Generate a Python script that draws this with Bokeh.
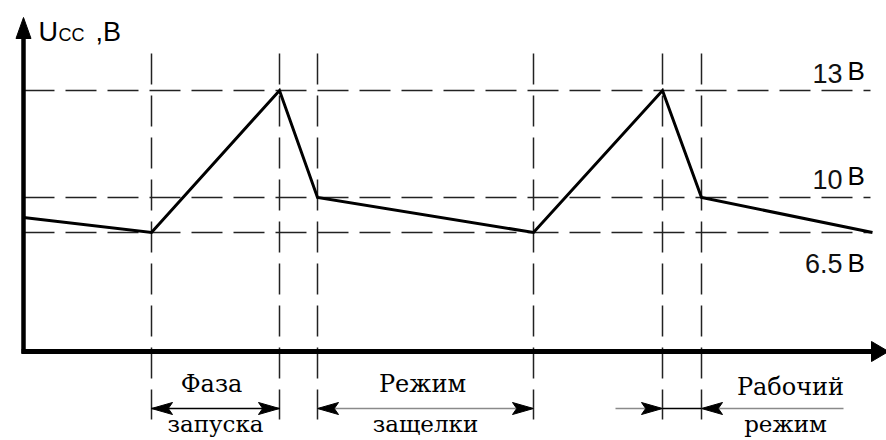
from bokeh.plotting import figure
from bokeh.models import Range1d
from bokeh.core.properties import value
from bokeh.embed import file_html
from bokeh.resources import INLINE

# ---- data (schematic units: time ticks along x, drawn height along y) ----
t_wave = [0, 128, 256, 294, 510, 639, 678, 849]          # event times
h_wave = [134, 119, 261, 154, 119, 261, 154, 119]        # drawn Ucc height
level_volts = [13, 10, 6.5]
level_h = [261, 154, 119]                                 # drawn height of each level
level_num = ["13", "10", "6.5"]
level_unit = ["B", "B", "B"]
guide_t = [128, 256, 294, 510, 639, 678]                  # vertical guides
phase_top = ["Фаза", "Режим", "Рабочий"]
phase_bot = ["запуска", "защелки", "режим"]
phase_span = [(128, 256), (294, 510), (639, 678)]

W, H = 886, 440
X0, X1 = -23, 863
Y1 = 351
Y0 = Y1 - H
TXT = 9  # text baseline correction (px)

p = figure(width=W, height=H, x_range=Range1d(X0, X1), y_range=Range1d(Y0, Y1),
           output_backend="svg", toolbar_location=None, min_border=0,
           x_axis_type=None, y_axis_type=None)
p.grid.visible = False
p.outline_line_color = None
p.background_fill_color = "white"
p.border_fill_color = "white"

dash = "31 11"
gcol = "#222222"

# horizontal level guides
p.segment(x0=[0] * 3, y0=level_h, x1=[847] * 3, y1=level_h,
          line_color=gcol, line_width=1.5, line_dash=dash)
# vertical guides
p.segment(x0=guide_t, y0=[298] * len(guide_t), x1=guide_t, y1=[-68] * len(guide_t),
          line_color=gcol, line_width=1.5, line_dash=dash)

# waveform
p.line(t_wave, h_wave, line_color="black", line_width=3, line_join="miter")

# axes
p.line([0, 0], [-2, 318], line_color="black", line_width=4.5)
p.line([-2, 852], [0, 0], line_color="black", line_width=5)


def head(tx, ty, d, length, width, notch=0.0):
    dx, dy = d
    bx, by = tx - dx * length, ty - dy * length
    px, py = -dy, dx
    nx, ny = tx - dx * length * (1 - notch), ty - dy * length * (1 - notch)
    xs = [tx, bx + px * width / 2, nx, bx - px * width / 2]
    ys = [ty, by + py * width / 2, ny, by - py * width / 2]
    return xs, ys


hx, hy = [], []
xs, ys = head(0, 334, (0, 1), 21, 15)
hx.append(xs); hy.append(ys)
xs, ys = head(865, 0, (1, 0), 17, 20)
hx.append(xs); hy.append(ys)

# bottom phase arrows
ya = -57
a, b = phase_span[0]
p.line([a, b], [ya, ya], line_color="black", line_width=1.5)
for tip, d in ((a, (-1, 0)), (b, (1, 0))):
    xs, ys = head(tip, ya, d, 21, 12, 0.2); hx.append(xs); hy.append(ys)
a, b = phase_span[1]
p.line([a, b], [ya, ya], line_color="#8a8a8a", line_width=1.5)
for tip, d in ((a, (-1, 0)), (b, (1, 0))):
    xs, ys = head(tip, ya, d, 21, 12, 0.2); hx.append(xs); hy.append(ys)
a, b = phase_span[2]
p.line([a - 47, a], [ya, ya], line_color="#8a8a8a", line_width=1.5)
p.line([a, b], [ya, ya], line_color="black", line_width=1.5)
p.line([b, b + 142], [ya, ya], line_color="#8a8a8a", line_width=1.5)
for tip, d in ((a, (1, 0)), (b, (-1, 0))):
    xs, ys = head(tip, ya, d, 21, 12, 0.2); hx.append(xs); hy.append(ys)

p.patches(hx, hy, fill_color="black", line_color="black", line_width=1)

# level labels
p.text(x=[819] * 3, y=[269 + TXT, 163 + TXT, 79 + TXT], text=level_num,
       text_font=value("Liberation Sans"), text_font_size="27px",
       text_align="right", text_baseline="alphabetic", text_color="#111111")
p.text(x=[824] * 3, y=[272 + TXT, 167 + TXT, 80 + TXT], text=level_unit,
       text_font=value("Liberation Sans"), text_font_size="26px",
       text_align="left", text_baseline="alphabetic", text_color="black")

# title U_CC ,B
p.text(x=[15], y=[311 + TXT], text=["U"], text_font=value("Liberation Sans"),
       text_font_size="27px", text_baseline="alphabetic", text_color="black")
p.text(x=[35], y=[308 + TXT], text=["CC"], text_font=value("Liberation Sans"),
       text_font_size="18px", text_baseline="alphabetic", text_color="black")
p.text(x=[72], y=[311 + TXT], text=[",B"], text_font=value("Liberation Sans"),
       text_font_size="27px", text_baseline="alphabetic", text_color="black")

# phase labels
cx_top = [188, 399, 767]
cx_bot = [192, 402, 762]
p.text(x=cx_top, y=[-41 + TXT, -41 + TXT, -44 + TXT], text=phase_top,
       text_font=value("DejaVu Serif"), text_font_size="24px", text_align="center",
       text_baseline="alphabetic", text_color="black")
p.text(x=cx_bot, y=[-81 + TXT] * 3, text=phase_bot, text_font=value("DejaVu Serif"),
       text_font_size="23px", text_align="center", text_baseline="alphabetic",
       text_color="black")

open("out.html", "w").write(file_html(p, INLINE))
